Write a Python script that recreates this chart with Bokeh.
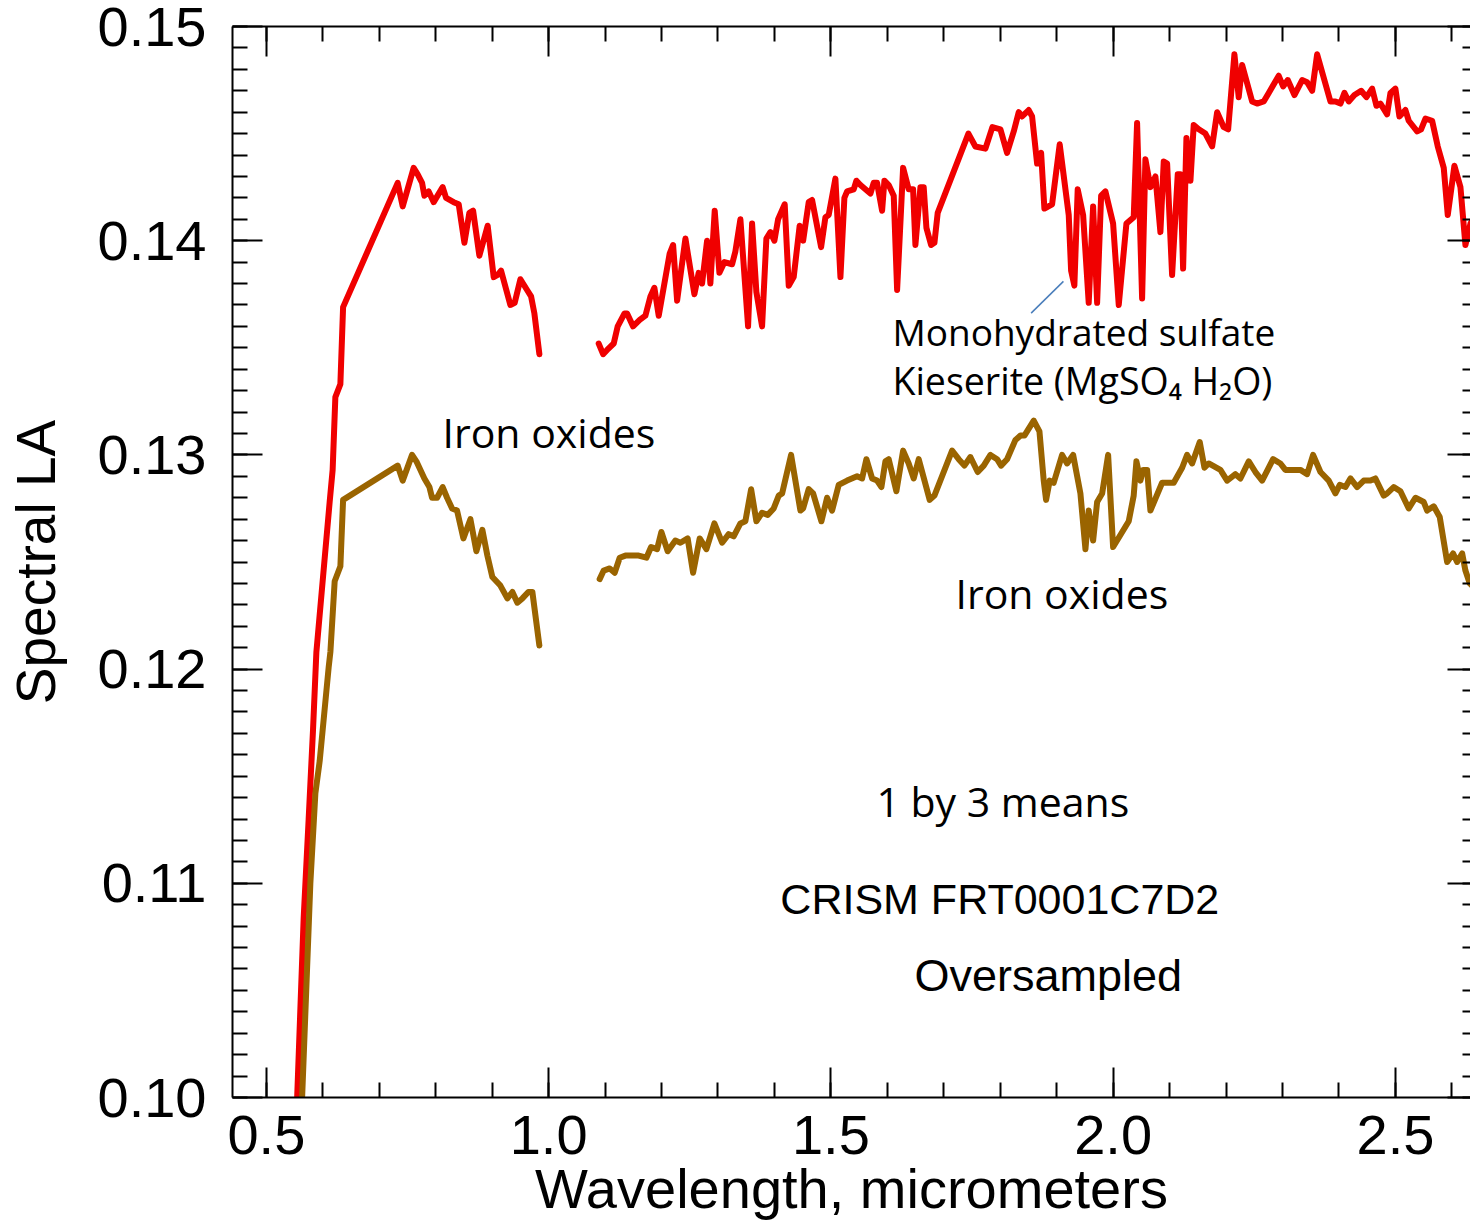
from bokeh.plotting import figure
from bokeh.models import (Range1d, LinearAxis, SingleIntervalTicker, PrintfTickFormatter,
                          Label, CustomJSTickFormatter)
from bokeh.embed import file_html
from bokeh.resources import INLINE

# ---------------- data (wavelength in micrometers, spectral LA) ----------------
red_vis_wl = [0.5505, 0.5544, 0.5661, 0.5749, 0.5827, 0.5886, 0.6121, 0.6174, 0.6222, 0.6311,
              0.6359, 0.7326, 0.7415, 0.7609, 0.7680, 0.7758, 0.7799, 0.7875, 0.7964, 0.8123,
              0.8183, 0.8318, 0.8407, 0.8508, 0.8596, 0.8662, 0.8773, 0.8920, 0.9027, 0.9097,
              0.9158, 0.9322, 0.9399, 0.9500, 0.9618, 0.9689, 0.9748, 0.9836]
red_vis_la = [0.0965, 0.0999, 0.1084, 0.1130, 0.1172, 0.1208, 0.1278, 0.1293, 0.1327, 0.1333,
              0.1369, 0.1427, 0.1416, 0.1434, 0.1431, 0.1427, 0.1421, 0.1423, 0.1418, 0.1425,
              0.1420, 0.1418, 0.1417, 0.1399, 0.1413, 0.1414, 0.1393, 0.1407, 0.1383, 0.1384,
              0.1386, 0.1370, 0.1371, 0.1382, 0.1377, 0.1374, 0.1366, 0.1347]

red_ir_wl = [1.0887, 1.0965, 1.1036, 1.1153, 1.1223, 1.1342, 1.1390, 1.1496, 1.1613, 1.1714,
             1.1803, 1.1873, 1.1950, 1.2144, 1.2205, 1.2276, 1.2423, 1.2582, 1.2658, 1.2718,
             1.2807, 1.2865, 1.2942, 1.3025, 1.3113, 1.3250, 1.3308, 1.3397, 1.3533, 1.3604,
             1.3680, 1.3781, 1.3857, 1.3928, 1.3999, 1.4065, 1.4182, 1.4253, 1.4341, 1.4447,
             1.4508, 1.4607, 1.4667, 1.4827, 1.4903, 1.4961, 1.5080, 1.5169, 1.5239, 1.5287,
             1.5404, 1.5452, 1.5523, 1.5700, 1.5758, 1.5818, 1.5907, 1.5948, 1.6024, 1.6113,
             1.6173, 1.6279, 1.6378, 1.6456, 1.6497, 1.6586, 1.6644, 1.6692, 1.6775, 1.6834,
             1.6892, 1.7436, 1.7560, 1.7737, 1.7861, 1.8003, 1.8121, 1.8239, 1.8327, 1.8387,
             1.8504, 1.8564, 1.8653, 1.8724, 1.8782, 1.8918, 1.9053, 1.9213, 1.9255, 1.9313,
             1.9372, 1.9468, 1.9567, 1.9645, 1.9716, 1.9787, 1.9863, 1.9999, 2.0099, 2.0235,
             2.0364, 2.0424, 2.0513, 2.0571, 2.0660, 2.0749, 2.0837, 2.0896, 2.0956, 2.1044,
             2.1144, 2.1191, 2.1239, 2.1298, 2.1369, 2.1427, 2.1516, 2.1634, 2.1753, 2.1842,
             2.1959, 2.2037, 2.2148, 2.2224, 2.2285, 2.2462, 2.2550, 2.2667, 2.2756, 2.2933,
             2.3011, 2.3093, 2.3211, 2.3348, 2.3436, 2.3525, 2.3613, 2.3849, 2.3937, 2.4026,
             2.4097, 2.4173, 2.4274, 2.4393, 2.4487, 2.4588, 2.4664, 2.4735, 2.4853, 2.4912,
             2.5000, 2.5071, 2.5177, 2.5236, 2.5385, 2.5455, 2.5532, 2.5650, 2.5750, 2.5856,
             2.5927, 2.6045, 2.6152, 2.6240, 2.6329, 2.6435]
red_ir_la = [0.1352, 0.1347, 0.1349, 0.1352, 0.1360, 0.1366, 0.1366, 0.1360, 0.1363, 0.1365,
             0.1374, 0.1378, 0.1365, 0.1394, 0.1398, 0.1372, 0.1401, 0.1375, 0.1385, 0.1380,
             0.1400, 0.1380, 0.1414, 0.1385, 0.1390, 0.1389, 0.1395, 0.1410, 0.1360, 0.1408,
             0.1376, 0.1360, 0.1401, 0.1404, 0.1400, 0.1410, 0.1417, 0.1379, 0.1383, 0.1407,
             0.1400, 0.1418, 0.1419, 0.1397, 0.1411, 0.1412, 0.1429, 0.1383, 0.1420, 0.1423,
             0.1424, 0.1428, 0.1426, 0.1422, 0.1427, 0.1427, 0.1414, 0.1428, 0.1426, 0.1421,
             0.1377, 0.1434, 0.1424, 0.1424, 0.1398, 0.1425, 0.1425, 0.1406, 0.1398, 0.1399,
             0.1413, 0.1450, 0.1444, 0.1443, 0.1453, 0.1452, 0.1441, 0.1451, 0.1460, 0.1458,
             0.1461, 0.1458, 0.1436, 0.1441, 0.1415, 0.1417, 0.1445, 0.1412, 0.1386, 0.1379,
             0.1424, 0.1412, 0.1371, 0.1416, 0.1371, 0.1421, 0.1423, 0.1408, 0.1370, 0.1408,
             0.1411, 0.1455, 0.1373, 0.1438, 0.1425, 0.1430, 0.1404, 0.1437, 0.1436, 0.1384,
             0.1431, 0.1431, 0.1387, 0.1448, 0.1428, 0.1454, 0.1452, 0.1450, 0.1444, 0.1460,
             0.1453, 0.1452, 0.1487, 0.1467, 0.1482, 0.1465, 0.1464, 0.1465, 0.1469, 0.1477,
             0.1472, 0.1475, 0.1468, 0.1475, 0.1474, 0.1470, 0.1487, 0.1465, 0.1465, 0.1464,
             0.1469, 0.1465, 0.1468, 0.1470, 0.1467, 0.1471, 0.1463, 0.1464, 0.1459, 0.1469,
             0.1471, 0.1458, 0.1461, 0.1456, 0.1451, 0.1452, 0.1457, 0.1456, 0.1444, 0.1434,
             0.1412, 0.1435, 0.1425, 0.1398, 0.1408, 0.1412]

brown_vis_wl = [0.5583, 0.5632, 0.5779, 0.5868, 0.5944, 0.6104, 0.6134, 0.6210, 0.6311, 0.6359,
                0.7326, 0.7415, 0.7581, 0.7657, 0.7799, 0.7888, 0.7935, 0.8024, 0.8123, 0.8201,
                0.8290, 0.8378, 0.8490, 0.8614, 0.8720, 0.8826, 0.8915, 0.9003, 0.9145, 0.9269,
                0.9358, 0.9446, 0.9535, 0.9641, 0.9712, 0.9836]
brown_vis_la = [0.0965, 0.0999, 0.1100, 0.1142, 0.1157, 0.1201, 0.1208, 0.1241, 0.1248, 0.1279,
                0.1295, 0.1288, 0.1300, 0.1297, 0.1289, 0.1285, 0.1280, 0.1280, 0.1285, 0.1280,
                0.1275, 0.1274, 0.1261, 0.1270, 0.1255, 0.1265, 0.1253, 0.1243, 0.1239, 0.1233,
                0.1236, 0.1231, 0.1233, 0.1236, 0.1236, 0.1211]

brown_ir_wl = [1.0904, 1.0975, 1.1082, 1.1170, 1.1259, 1.1360, 1.1595, 1.1732, 1.1815, 1.1921,
               1.1997, 1.2109, 1.2245, 1.2334, 1.2463, 1.2559, 1.2676, 1.2795, 1.2936, 1.3073,
               1.3190, 1.3278, 1.3397, 1.3485, 1.3587, 1.3680, 1.3781, 1.3881, 1.3987, 1.4076,
               1.4136, 1.4295, 1.4460, 1.4508, 1.4607, 1.4685, 1.4832, 1.4933, 1.5021, 1.5138,
               1.5287, 1.5464, 1.5553, 1.5629, 1.5730, 1.5818, 1.5895, 1.5966, 1.6024, 1.6160,
               1.6279, 1.6378, 1.6467, 1.6556, 1.6750, 1.6834, 1.7147, 1.7264, 1.7365, 1.7471,
               1.7601, 1.7707, 1.7826, 1.7944, 1.8015, 1.8121, 1.8269, 1.8357, 1.8428, 1.8593,
               1.8694, 1.8770, 1.8812, 1.8876, 1.8947, 1.9096, 1.9184, 1.9291, 1.9420, 1.9509,
               1.9567, 1.9645, 1.9716, 1.9805, 1.9911, 1.9999, 2.0276, 2.0364, 2.0412, 2.0483,
               2.0531, 2.0602, 2.0660, 2.0867, 2.1073, 2.1222, 2.1310, 2.1399, 2.1534, 2.1617,
               2.1693, 2.1900, 2.2019, 2.2166, 2.2254, 2.2402, 2.2520, 2.2639, 2.2833, 2.2963,
               2.3051, 2.3170, 2.3317, 2.3436, 2.3542, 2.3672, 2.3819, 2.3937, 2.4014, 2.4115,
               2.4203, 2.4322, 2.4439, 2.4558, 2.4646, 2.4793, 2.4853, 2.4970, 2.5089, 2.5236,
               2.5355, 2.5502, 2.5562, 2.5679, 2.5785, 2.5916, 2.6022, 2.6093, 2.6182, 2.6240,
               2.6316, 2.6435]
brown_ir_la = [0.1242, 0.1246, 0.1247, 0.1245, 0.1252, 0.1253, 0.1253, 0.1252, 0.1257, 0.1256,
               0.1264, 0.1255, 0.1260, 0.1259, 0.1261, 0.1245, 0.1261, 0.1256, 0.1268, 0.1259,
               0.1263, 0.1262, 0.1268, 0.1269, 0.1284, 0.1269, 0.1273, 0.1272, 0.1275, 0.1281,
               0.1282, 0.1300, 0.1274, 0.1275, 0.1284, 0.1282, 0.1269, 0.1280, 0.1274, 0.1286,
               0.1288, 0.1290, 0.1289, 0.1298, 0.1289, 0.1288, 0.1285, 0.1297, 0.1298, 0.1283,
               0.1302, 0.1296, 0.1289, 0.1298, 0.1279, 0.1281, 0.1302, 0.1298, 0.1295, 0.1299,
               0.1292, 0.1295, 0.1300, 0.1298, 0.1295, 0.1298, 0.1307, 0.1309, 0.1309, 0.1316,
               0.1311, 0.1288, 0.1279, 0.1288, 0.1287, 0.1300, 0.1296, 0.1300, 0.1282, 0.1256,
               0.1274, 0.1260, 0.1278, 0.1282, 0.1300, 0.1257, 0.1269, 0.1281, 0.1297, 0.1288,
               0.1293, 0.1293, 0.1274, 0.1287, 0.1287, 0.1294, 0.1300, 0.1296, 0.1306, 0.1294,
               0.1296, 0.1293, 0.1288, 0.1291, 0.1289, 0.1297, 0.1292, 0.1288, 0.1298, 0.1296,
               0.1293, 0.1293, 0.1293, 0.1291, 0.1300, 0.1292, 0.1288, 0.1282, 0.1286, 0.1285,
               0.1289, 0.1285, 0.1288, 0.1288, 0.1289, 0.1281, 0.1282, 0.1285, 0.1283, 0.1275,
               0.1280, 0.1278, 0.1274, 0.1276, 0.1271, 0.1250, 0.1254, 0.1250, 0.1254, 0.1246,
               0.1240, 0.1237]

# annotation leader line (wavelength, LA)
leader_wl = [1.8547, 1.9119]
leader_la = [0.13662, 0.13810]

x_major_interval = 0.5
y_major_interval = 0.01

RED = "#f00000"
BROWN = "#9a6400"
AXIS_FONT = "Liberation Sans"
NOTE_FONT = "Open Sans"

# ---------------- figure ----------------
p = figure(width=1470, height=1223,
           x_range=Range1d(0.44, 2.633), y_range=Range1d(0.10, 0.15),
           output_backend="svg", toolbar_location=None,
           min_border_left=232, min_border_right=0, min_border_top=26, min_border_bottom=126)
p.outline_line_color = None
p.grid.visible = False
p.background_fill_color = "white"
p.border_fill_color = "white"

xt = SingleIntervalTicker(interval=x_major_interval, num_minor_ticks=5)
yt = SingleIntervalTicker(interval=y_major_interval, num_minor_ticks=10)


def style(ax, major_in=30, minor_in=15):
    ax.axis_line_width = 2
    ax.axis_line_color = "black"
    ax.major_tick_line_width = 2
    ax.minor_tick_line_width = 2
    ax.major_tick_in = major_in
    ax.major_tick_out = 0
    ax.minor_tick_in = minor_in
    ax.minor_tick_out = 0
    ax.major_label_text_font = AXIS_FONT
    ax.major_label_text_font_size = "56px"
    ax.major_label_text_color = "black"


xa = p.xaxis[0]
xa.ticker = xt
xa.formatter = PrintfTickFormatter(format="%.1f")
style(xa)
xa.major_label_standoff = 18
xa.axis_label = "Wavelength, micrometers"
xa.axis_label_text_font = AXIS_FONT
xa.axis_label_text_font_size = "56px"
xa.axis_label_text_font_style = "normal"
xa.axis_label_text_color = "black"
xa.axis_label_standoff = 0

ya = p.yaxis[0]
ya.ticker = yt
ya.formatter = PrintfTickFormatter(format="%.2f")
style(ya)
ya.major_label_standoff = 26
ya.axis_label = "Spectral LA"
ya.axis_label_text_font = AXIS_FONT
ya.axis_label_text_font_size = "55px"
ya.axis_label_text_font_style = "normal"
ya.axis_label_text_color = "black"
ya.axis_label_standoff = 28

blank = CustomJSTickFormatter(code="return ''")
top = LinearAxis(ticker=xt, formatter=blank)
style(top)
top.major_label_text_font_size = "0px"
top.major_label_standoff = 0
p.add_layout(top, "above")

right = LinearAxis(ticker=yt, formatter=blank)
style(right, major_in=23, minor_in=8)
right.axis_line_color = None
right.major_label_text_font_size = "0px"
right.major_label_standoff = 0
p.add_layout(right, "right")

# ---------------- spectra ----------------
for wl, la, c in [(red_vis_wl, red_vis_la, RED), (red_ir_wl, red_ir_la, RED),
                  (brown_vis_wl, brown_vis_la, BROWN), (brown_ir_wl, brown_ir_la, BROWN)]:
    assert len(wl) == len(la)
    p.line(wl, la, line_color=c, line_width=6, line_join="round", line_cap="round")

p.line(leader_wl, leader_la, line_color="#4a7ebb", line_width=1.5)

# ---------------- texts ----------------
def note(x, y, text, size, font=NOTE_FONT, align="left"):
    p.add_layout(Label(x=x, y=y, text=text, text_font=font, text_font_size=size,
                       text_color="black", text_align=align, text_baseline="alphabetic"))


note(0.812, 0.13105, "Iron oxides", "41px")
note(1.7206, 0.12355, "Iron oxides", "41px")
note(1.6090, 0.13578, "Monohydrated sulfate", "37px")
note(1.6090, 0.13348, "Kieserite (MgSO\u2084 H\u2082O)", "37.5px")
note(1.5806, 0.11385, "1 by 3 means", "41px")
note(1.4105, 0.10925, "CRISM FRT0001C7D2", "43px", font=AXIS_FONT)
note(1.6480, 0.10570, "Oversampled", "45px", font=AXIS_FONT)

open("out.html", "w").write(file_html(p, INLINE))
